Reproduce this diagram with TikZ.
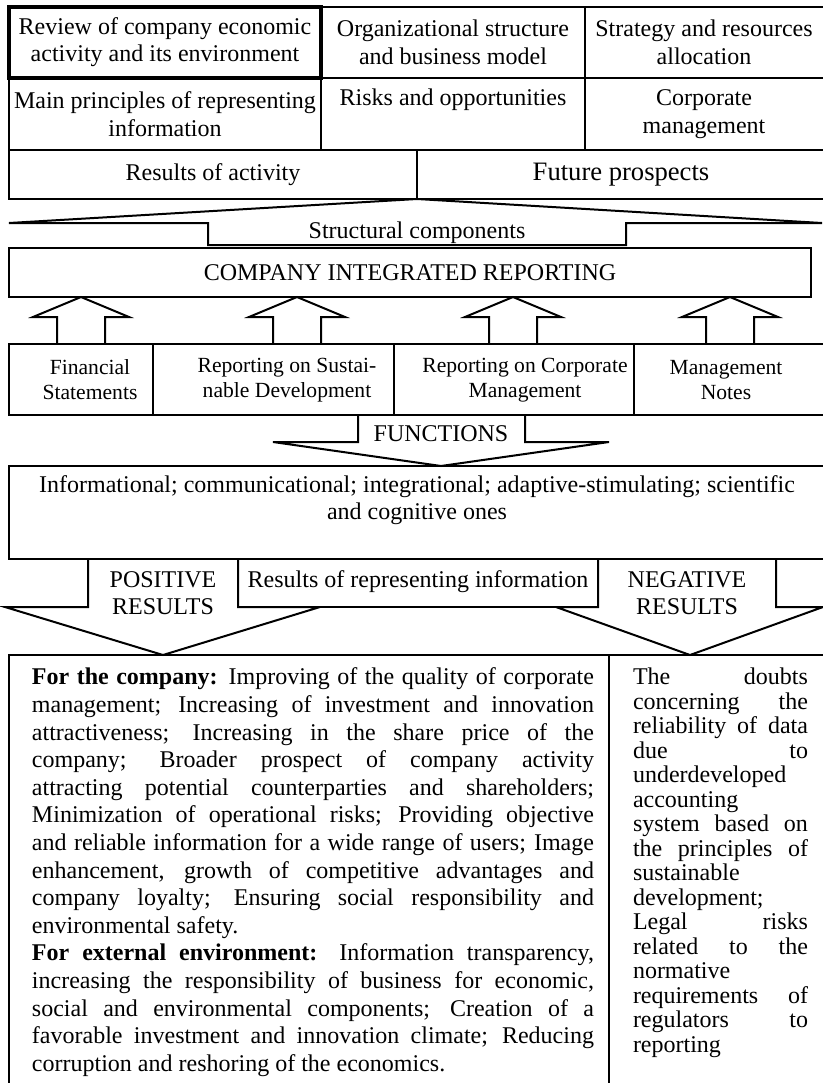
\documentclass[tikz,border=0pt]{standalone}
\usepackage{fontspec}
\setmainfont{Liberation Serif}
\tolerance=9999
\hbadness=10000
\begin{document}
\begin{tikzpicture}[x=0.5pt,y=-0.5pt,line width=1pt,
  txt/.style={align=center,inner sep=0pt,font=\fontsize{12}{13.8}\selectfont},
  srctxt/.style={txt,font=\fontsize{10.8}{12.4}\selectfont},
  para/.style={align=justify,inner sep=0pt,anchor=north west,font=\fontsize{12}{13.8}\selectfont},
  thickbox/.style={line width=1.6pt}]
\useasboundingbox (0,0) rectangle (823,1083);
\draw[thickbox] (9,7) rectangle (321,78);
\draw (321,7) rectangle (585,78);
\draw (585,7) rectangle (830,78);
\draw (9,78) rectangle (321,150);
\draw (321,78) rectangle (585,150);
\draw (585,78) rectangle (830,150);
\draw (9,150) rectangle (417,199);
\draw (417,150) rectangle (830,199);
\node[txt] (review) at (165,42) {Review of company economic\\activity and its environment};
\node[txt] (orgstruct) at (453,42) {Organizational structure\\and business model};
\node[txt] (strategy) at (704,42) {Strategy and resources\\allocation};
\node[txt] (principles) at (165,114) {Main principles of representing\\information};
\node[txt] (risks) at (453,100) {Risks and opportunities};
\node[txt] (corpmgmt) at (704,114) {Corporate\\management};
\node[txt] (activity) at (213,175) {Results of activity};
\node[txt,font=\fontsize{13.3}{15}\selectfont] (prospects) at (621,175) {Future prospects};
\draw (9,223) -- (417,199) -- (822,223) -- (626,223) -- (626,245) -- (208,245) -- (208,223) -- cycle;
\node[txt] (structural) at (417,233) {Structural components};
\draw (9,248) rectangle (811,297);
\node[txt] (cir) at (410,273) {COMPANY INTEGRATED REPORTING};
\foreach \c in {81,297,513,730}
  \draw (\c-24,344) -- (\c-24,317) -- (\c-48,317) -- (\c,297) -- (\c+48,317) -- (\c+24,317) -- (\c+24,344);
\draw (9,344) rectangle (153,415);
\draw (153,344) rectangle (394,415);
\draw (394,344) rectangle (634,415);
\draw (634,344) rectangle (830,415);
\node[srctxt] (financial) at (90,380) {Financial\\Statements};
\node[srctxt] (sustain) at (287,380) {Reporting on Sustai-\\nable Development};
\node[srctxt] (corprep) at (525,380) {Reporting on Corporate\\Management};
\node[srctxt] (notes) at (726,380) {Management\\Notes};
\draw (358,415) -- (358,442) -- (273,442) -- (441,466) -- (609,442) -- (525,442) -- (525,415);
\node[txt] (functions) at (441,434) {FUNCTIONS};
\draw (9,466) rectangle (830,559);
\node[txt] (funclist) at (417,500) {Informational; communicational; integrational; adaptive-stimulating; scientific\\and cognitive ones};
\draw (88,559) -- (88,607) -- (5,607) -- (163,655) -- (320,607) -- (238,607) -- (238,559);
\draw (238,559) rectangle (598,607);
\draw (598,559) -- (598,607) -- (556,607) -- (690,655) -- (823,607) -- (776,607) -- (776,559);
\node[txt] (positive) at (163,593) {POSITIVE\\RESULTS};
\node[txt] (represent) at (418,582) {Results of representing information};
\node[txt] (negative) at (687,593) {NEGATIVE\\RESULTS};
\draw (9,655) rectangle (609,1100);
\draw (609,655) rectangle (830,1100);
\node[para,text width=281pt] (forcompany) at (31,667) {\textbf{For the company:} Improving of the quality of corporate\linebreak
management; Increasing of investment and innovation\linebreak
attractiveness; Increasing in the share price of the\linebreak
company; Broader prospect of company activity\linebreak
attracting potential counterparties and shareholders;\linebreak
Minimization of operational risks; Providing objective\linebreak
and reliable information for a wide range of users; Image\linebreak
enhancement, growth of competitive advantages and\linebreak
company loyalty; Ensuring social responsibility and\linebreak
environmental safety.\par
\textbf{For external environment:} Information transparency,\linebreak
increasing the responsibility of business for economic,\linebreak
social and environmental components; Creation of a\linebreak
favorable investment and innovation climate; Reducing\linebreak
corruption and reshoring of the economics.};
\node[para,text width=87.5pt,font=\fontsize{12}{12.25}\selectfont] (doubts) at (632,667) {The doubts\linebreak
concerning the\linebreak
reliability of data\linebreak
due to\linebreak
underdeveloped\linebreak
accounting\linebreak
system based on\linebreak
the principles of\linebreak
sustainable\linebreak
development;\linebreak
Legal risks\linebreak
related to the\linebreak
normative\linebreak
requirements of\linebreak
regulators to\linebreak
reporting};
\end{tikzpicture}
\end{document}
